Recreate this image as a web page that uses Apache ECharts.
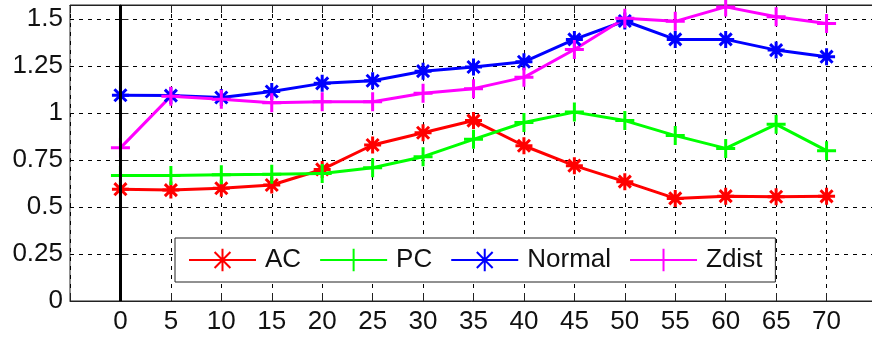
<!DOCTYPE html>
<html><head><meta charset="utf-8">
<script src="https://cdn.jsdelivr.net/npm/echarts@6/dist/echarts.min.js"></script>
<style>html,body{margin:0;padding:0;background:#fff}#c{width:872px;height:339px}</style>
</head><body><div id="c"></div>
<script>
const xValues = [0,5,10,15,20,25,30,35,40,45,50,55,60,65,70];
const acValues = [0.595,0.59,0.60,0.617,0.70,0.83,0.895,0.96,0.826,0.72,0.635,0.546,0.558,0.555,0.557];
const pcValues = [0.668,0.668,0.672,0.674,0.679,0.709,0.768,0.86,0.95,1.005,0.96,0.88,0.812,0.94,0.80];
const normalValues = [1.095,1.093,1.083,1.115,1.158,1.172,1.223,1.245,1.273,1.392,1.49,1.392,1.392,1.335,1.30];
const zdistValues = [0.815,1.09,1.074,1.055,1.06,1.06,1.105,1.13,1.19,1.338,1.505,1.488,1.565,1.512,1.477];
const seriesNames = ['AC','PC','Normal','Zdist'];
const yTicks = [0,0.25,0.5,0.75,1,1.25,1.5];

const FONT = 'Liberation Sans, Arial, sans-serif';
const ASTER = 'path://M0,-10L0,10M-10,0L10,0M-7.07,-7.07L7.07,7.07M-7.07,7.07L7.07,-7.07';
const PLUS = 'path://M0,-10L0,10M-10,0L10,0';

function mk(name, vals, color, sym, size) {
  return {
    name: name, type: 'line', z: 3,
    data: xValues.map((x, i) => [x, vals[i]]),
    symbol: sym, symbolSize: size, showSymbol: true,
    lineStyle: {color: color, width: 3},
    itemStyle: {color: color, borderColor: color, borderWidth: 3},
    emphasis: {disabled: true}, animation: false
  };
}

const chart = echarts.init(document.getElementById('c'), null, {renderer: 'canvas'});
const dash = {show: true, lineStyle: {color: '#000', width: 1, type: [4, 5]}};
chart.setOption({
  animation: false,
  backgroundColor: '#fff',
  grid: {left: 70, top: 5, width: 807, bottom: 38, show: true, borderColor: '#222', borderWidth: 1,
    containLabel: false, outerBoundsMode: 'none'},
  xAxis: [{
    type: 'value', min: -5, max: 75, interval: 5,
    axisLine: {show: true, lineStyle: {color: '#222', width: 1}},
    axisTick: {show: true, inside: true, length: 8, lineStyle: {color: '#222'}},
    axisLabel: {color: '#111', fontSize: 26, fontFamily: FONT, margin: 8,
      formatter: v => (v < 0 || v > 70) ? '' : String(v)},
    splitLine: dash
  }, {
    type: 'value', position: 'top', min: -5, max: 75, interval: 5,
    axisLine: {show: true, lineStyle: {color: '#222', width: 1}},
    axisTick: {show: true, inside: true, length: 8, lineStyle: {color: '#222'}},
    axisLabel: {show: false}, splitLine: {show: false}
  }],
  yAxis: [{
    type: 'value', min: 0, max: 1.575, interval: 0.25,
    axisLine: {show: true, lineStyle: {color: '#222', width: 1}},
    axisTick: {show: true, inside: true, length: 8, lineStyle: {color: '#222'}},
    axisLabel: {color: '#111', fontSize: 26, fontFamily: FONT, margin: 7, showMaxLabel: false,
      formatter: v => yTicks.some(t => Math.abs(t - v) < 1e-6) ? String(+v.toFixed(2)) : ''},
    splitLine: dash
  }],
  legend: {
    data: seriesNames,
    left: 175, top: 238,
    orient: 'horizontal',
    padding: [9, 13, 9, 13],
    itemWidth: 67, itemHeight: 28, itemGap: 18,
    borderColor: '#222', borderWidth: 1, backgroundColor: '#fff',
    textStyle: {color: '#111', fontSize: 26, fontFamily: FONT, padding: [0, 0, 0, 4]},
    selectedMode: false
  },
  series: [
    {type: 'line', name: 'zero', data: [], z: 1, silent: true,
     markLine: {silent: true, symbol: 'none', animation: false,
       label: {show: false},
       lineStyle: {color: '#000', width: 3, type: 'solid'},
       data: [{xAxis: 0}]}},
    mk('AC', acValues, '#ff0000', ASTER, 17),
    mk('PC', pcValues, '#00ff00', PLUS, 19),
    mk('Normal', normalValues, '#0000ff', ASTER, 17),
    mk('Zdist', zdistValues, '#ff00ff', PLUS, 19)
  ]
});
</script></body></html>
